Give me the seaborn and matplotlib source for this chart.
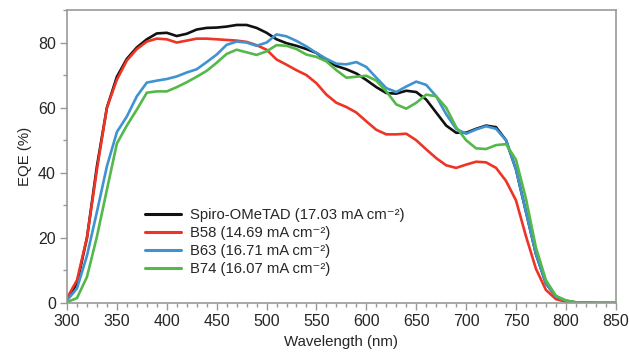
import matplotlib
matplotlib.use("Agg")
import matplotlib.pyplot as plt
from matplotlib.ticker import MultipleLocator
import pandas as pd
import seaborn as sns

# comprimentos de onda (nm), passo de 10 nm
wavelength = list(range(300, 860, 10))

spiro = [1, 6, 20, 42, 60, 69.5, 75, 78.5, 81, 82.8,
         83, 82, 82.7, 84, 84.5, 84.6, 84.9, 85.4, 85.4, 84.5,
         83, 81, 79.8, 79, 78, 76.8, 74.5, 72.8, 71.8, 70.5,
         68.5, 66.3, 64.5, 64.3, 65.2, 64.8, 62.5, 58.5, 54.5, 52.3,
         52.3, 53.5, 54.5, 54, 50, 41, 28, 15, 6, 2,
         0.6, 0.2, 0.1, 0, 0, 0]
b58 = [1.5, 7, 20, 41, 60, 68.6, 74.5, 78, 80.3, 81.2,
       81, 80, 80.6, 81.2, 81.2, 81, 80.8, 80.6, 80.2, 79.2,
       77.8, 74.8, 73.2, 71.5, 70, 67.5, 64, 61.5, 60.2, 58.5,
       55.8, 53.2, 51.8, 51.8, 52, 50, 47.2, 44.5, 42.3, 41.5,
       42.5, 43.4, 43.2, 41.5, 37.5, 31.5, 20.5, 10.5, 4, 1.2,
       0.4, 0.1, 0, 0, 0, 0]
b63 = [0.8, 4.5, 14.5, 28, 42, 52.5, 57.3, 63.5, 67.7, 68.3,
       68.8, 69.6, 70.8, 71.8, 74, 76.3, 79.3, 80.3, 80, 79,
       80, 82.5, 81.9, 80.5, 78.8, 76.8, 75, 73.5, 73.3, 74,
       72.5, 69.2, 66, 64.8, 66.5, 68, 67, 63.5, 58, 53.5,
       52, 53.3, 54.3, 53.5, 50, 41, 28, 15, 6, 2,
       0.7, 0.2, 0.1, 0, 0, 0]
b74 = [0.3, 1.5, 8, 20.4, 34.8, 49, 54.5, 59.4, 64.6, 65,
       65, 66.3, 67.8, 69.5, 71.3, 73.8, 76.5, 77.8, 77, 76.2,
       77.3, 79.2, 79, 78, 76.3, 75.6, 74.2, 71.5, 69.2, 69.5,
       69.8, 68.3, 65, 61, 59.7, 61.5, 64, 63.5, 60, 54,
       50, 47.5, 47.3, 48.5, 48.8, 44, 32, 17, 7, 2.2,
       0.8, 0.2, 0.1, 0, 0, 0]

labels = ["Spiro-OMeTAD (17.03 mA cm⁻²)",
          "B58 (14.69 mA cm⁻²)",
          "B63 (16.71 mA cm⁻²)",
          "B74 (16.07 mA cm⁻²)"]
cores = ["#111111", "#ee3424", "#3f93d0", "#55b84a"]

df = pd.concat([
    pd.DataFrame({"wl": wavelength, "eqe": s, "amostra": lab})
    for s, lab in zip([spiro, b58, b63, b74], labels)
])

sns.set_style("ticks")
plt.rcParams["font.family"] = ["Liberation Sans", "DejaVu Sans"]

fig = plt.figure(figsize=(6.29, 3.53), dpi=100)
ax = fig.add_axes([0.1065, 0.1416, 0.8725, 0.8301])

sns.lineplot(data=df, x="wl", y="eqe", hue="amostra", palette=cores,
             linewidth=1.9, ax=ax, legend=True)

ax.set_xlim(300, 850)
ax.set_ylim(0, 90)
ax.xaxis.set_major_locator(MultipleLocator(50))
ax.xaxis.set_minor_locator(MultipleLocator(10))
ax.yaxis.set_major_locator(MultipleLocator(20))
ax.yaxis.set_minor_locator(MultipleLocator(10))
ax.tick_params(which="major", length=5, width=1, color="#999999", labelsize=11.5, pad=3)
ax.tick_params(which="minor", length=3, width=1, color="#999999")
for sp in ax.spines.values():
    sp.set_color("#999999")
    sp.set_linewidth(1.2)

ax.set_xlabel("Wavelength (nm)", fontsize=10.8)
ax.set_ylabel("EQE (%)", fontsize=10.8)

leg = ax.legend(loc="upper left", bbox_to_anchor=(0.142, 0.325), frameon=False,
                fontsize=10.7, handlelength=2.4, handletextpad=0.65,
                labelspacing=0.27, borderpad=0, borderaxespad=0)
for h in leg.get_lines():
    h.set_linewidth(2.2)

fig.savefig("out.png", dpi=100)
